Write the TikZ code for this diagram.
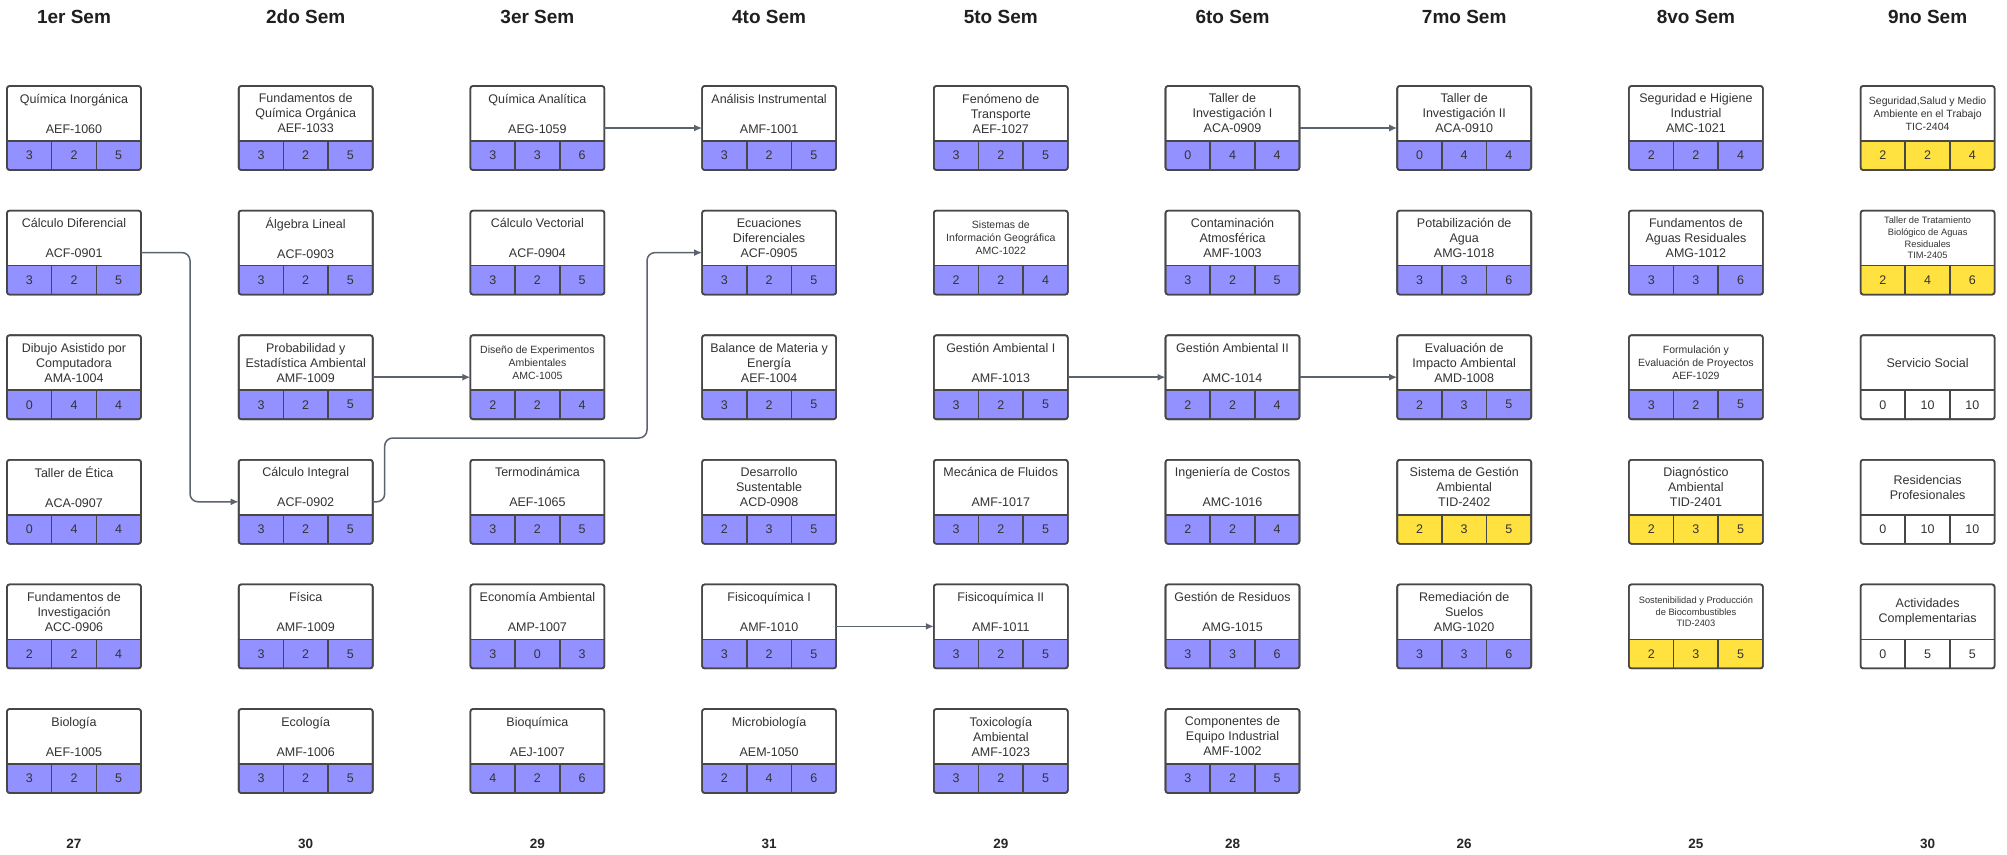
\documentclass[tikz,border=0pt]{standalone}
\usepackage{fontspec}
\setmainfont{Liberation Sans}
\usetikzlibrary{arrows.meta}
\definecolor{cpurple}{HTML}{9391FF}
\definecolor{cyellow}{HTML}{FFE240}
\definecolor{boxline}{HTML}{474747}
\definecolor{txtc}{HTML}{333333}
\definecolor{connc}{HTML}{5C6370}
\newcommand\fa{\fontsize{12.5}{15}\selectfont}
\newcommand\fb{\fontsize{10.5}{13}\selectfont}
\newcommand\fc{\fontsize{9.3}{11.7}\selectfont}
\tikzset{
  coursebox/.style={draw=boxline, fill=white, line width=1.6pt, rounded corners=2.5pt,
    minimum width=134pt, minimum height=84pt, inner sep=0pt, outer sep=0pt},
  sepline/.style={draw=boxline, line width=1.6pt},
  txt/.style={align=center, text=txtc, inner sep=0pt},
  num/.style={font=\fa, text=txtc, inner sep=0pt},
  hdr/.style={font=\bfseries\fontsize{19}{22}\selectfont, text=black!88, inner sep=0pt},
  tot/.style={font=\bfseries\fontsize{13.5}{16}\selectfont, text=black!85, inner sep=0pt},
  conn/.style={draw=connc, line width=1.5pt, -{Latex[length=8pt,width=7pt]}},
}
\newcommand\course[9]{%
  \node[coursebox, path picture={\fill[#4] ([yshift=29pt]path picture bounding box.south west) rectangle (path picture bounding box.south east);}] (#1) at ({74+231.7*#2},{128+124.6*#3}) {};
  \draw[sepline] ([yshift=29pt]#1.south west) -- ([yshift=29pt]#1.south east);
  \draw[sepline] ([xshift=44.67pt,yshift=29pt]#1.south west) -- ([xshift=44.67pt]#1.south west);
  \draw[sepline] ([xshift=89.33pt,yshift=29pt]#1.south west) -- ([xshift=89.33pt]#1.south west);
  \node[coursebox, fill=none] at (#1) {};
  \node[txt, font=#5] (#1-t) at ([yshift=-27.5pt]#1.north) {#6};
  \node[num] (#1-a) at ([xshift=22.33pt,yshift=14.5pt]#1.south west) {#7};
  \node[num] (#1-b) at ([xshift=67pt,yshift=14.5pt]#1.south west) {#8};
  \node[num] (#1-c) at ([xshift=111.67pt,yshift=14.5pt]#1.south west) {#9};
}
\begin{document}
\begin{tikzpicture}[x=1pt,y=-1pt]
\useasboundingbox[fill=white] (0,0) rectangle (2007,854);
% headers
\node[hdr] (h1) at ({74+231.7*0},17) {1er Sem};
\node[hdr] (h2) at ({74+231.7*1},17) {2do Sem};
\node[hdr] (h3) at ({74+231.7*2},17) {3er Sem};
\node[hdr] (h4) at ({74+231.7*3},17) {4to Sem};
\node[hdr] (h5) at ({74+231.7*4},17) {5to Sem};
\node[hdr] (h6) at ({74+231.7*5},17) {6to Sem};
\node[hdr] (h7) at ({74+231.7*6},17) {7mo Sem};
\node[hdr] (h8) at ({74+231.7*7},17) {8vo Sem};
\node[hdr] (h9) at ({74+231.7*8},17) {9no Sem};
% totals
\node[tot] (t1) at ({74+231.7*0},844) {27};
\node[tot] (t2) at ({74+231.7*1},844) {30};
\node[tot] (t3) at ({74+231.7*2},844) {29};
\node[tot] (t4) at ({74+231.7*3},844) {31};
\node[tot] (t5) at ({74+231.7*4},844) {29};
\node[tot] (t6) at ({74+231.7*5},844) {28};
\node[tot] (t7) at ({74+231.7*6},844) {26};
\node[tot] (t8) at ({74+231.7*7},844) {25};
\node[tot] (t9) at ({74+231.7*8},844) {30};
% column 1
\course{QI}{0}{0}{cpurple}{\fa}{Química Inorgánica\\[15pt]AEF-1060}{3}{2}{5}
\course{CD}{0}{1}{cpurple}{\fa}{Cálculo Diferencial\\[15pt]ACF-0901}{3}{2}{5}
\course{DAC}{0}{2}{cpurple}{\fa}{Dibujo Asistido por\\Computadora\\AMA-1004}{0}{4}{4}
\course{TE}{0}{3}{cpurple}{\fa}{Taller de Ética\\[15pt]ACA-0907}{0}{4}{4}
\course{FI}{0}{4}{cpurple}{\fa}{Fundamentos de\\Investigación\\ACC-0906}{2}{2}{4}
\course{BIO}{0}{5}{cpurple}{\fa}{Biología\\[15pt]AEF-1005}{3}{2}{5}
% column 2
\course{FQO}{1}{0}{cpurple}{\fa}{Fundamentos de\\Química Orgánica\\AEF-1033}{3}{2}{5}
\course{AL}{1}{1}{cpurple}{\fa}{Álgebra Lineal\\[15pt]ACF-0903}{3}{2}{5}
\course{PE}{1}{2}{cpurple}{\fa}{Probabilidad y\\Estadística Ambiental\\AMF-1009}{3}{2}{5}
\course{CI}{1}{3}{cpurple}{\fa}{Cálculo Integral\\[15pt]ACF-0902}{3}{2}{5}
\course{FIS}{1}{4}{cpurple}{\fa}{Física\\[15pt]AMF-1009}{3}{2}{5}
\course{ECO}{1}{5}{cpurple}{\fa}{Ecología\\[15pt]AMF-1006}{3}{2}{5}
% column 3
\course{QA}{2}{0}{cpurple}{\fa}{Química Analítica\\[15pt]AEG-1059}{3}{3}{6}
\course{CV}{2}{1}{cpurple}{\fa}{Cálculo Vectorial\\[15pt]ACF-0904}{3}{2}{5}
\course{DE}{2}{2}{cpurple}{\fb}{Diseño de Experimentos\\Ambientales\\AMC-1005}{2}{2}{4}
\course{TD}{2}{3}{cpurple}{\fa}{Termodinámica\\[15pt]AEF-1065}{3}{2}{5}
\course{EA}{2}{4}{cpurple}{\fa}{Economía Ambiental\\[15pt]AMP-1007}{3}{0}{3}
\course{BQ}{2}{5}{cpurple}{\fa}{Bioquímica\\[15pt]AEJ-1007}{4}{2}{6}
% column 4
\course{AI}{3}{0}{cpurple}{\fa}{Análisis Instrumental\\[15pt]AMF-1001}{3}{2}{5}
\course{ED}{3}{1}{cpurple}{\fa}{Ecuaciones\\Diferenciales\\ACF-0905}{3}{2}{5}
\course{BM}{3}{2}{cpurple}{\fa}{Balance de Materia y\\Energía\\AEF-1004}{3}{2}{5}
\course{DS}{3}{3}{cpurple}{\fa}{Desarrollo\\Sustentable\\ACD-0908}{2}{3}{5}
\course{FQ1}{3}{4}{cpurple}{\fa}{Fisicoquímica I\\[15pt]AMF-1010}{3}{2}{5}
\course{MB}{3}{5}{cpurple}{\fa}{Microbiología\\[15pt]AEM-1050}{2}{4}{6}
% column 5
\course{FT}{4}{0}{cpurple}{\fa}{Fenómeno de\\Transporte\\AEF-1027}{3}{2}{5}
\course{SIG}{4}{1}{cpurple}{\fb}{Sistemas de\\Información Geográfica\\AMC-1022}{2}{2}{4}
\course{GA1}{4}{2}{cpurple}{\fa}{Gestión Ambiental I\\[15pt]AMF-1013}{3}{2}{5}
\course{MF}{4}{3}{cpurple}{\fa}{Mecánica de Fluidos\\[15pt]AMF-1017}{3}{2}{5}
\course{FQ2}{4}{4}{cpurple}{\fa}{Fisicoquímica II\\[15pt]AMF-1011}{3}{2}{5}
\course{TOX}{4}{5}{cpurple}{\fa}{Toxicología\\Ambiental\\AMF-1023}{3}{2}{5}
% column 6
\course{TI1}{5}{0}{cpurple}{\fa}{Taller de\\Investigación I\\ACA-0909}{0}{4}{4}
\course{CA}{5}{1}{cpurple}{\fa}{Contaminación\\Atmosférica\\AMF-1003}{3}{2}{5}
\course{GA2}{5}{2}{cpurple}{\fa}{Gestión Ambiental II\\[15pt]AMC-1014}{2}{2}{4}
\course{IC}{5}{3}{cpurple}{\fa}{Ingeniería de Costos\\[15pt]AMC-1016}{2}{2}{4}
\course{GR}{5}{4}{cpurple}{\fa}{Gestión de Residuos\\[15pt]AMG-1015}{3}{3}{6}
\course{CEI}{5}{5}{cpurple}{\fa}{Componentes de\\Equipo Industrial\\AMF-1002}{3}{2}{5}
% column 7
\course{TI2}{6}{0}{cpurple}{\fa}{Taller de\\Investigación II\\ACA-0910}{0}{4}{4}
\course{PA}{6}{1}{cpurple}{\fa}{Potabilización de\\Agua\\AMG-1018}{3}{3}{6}
\course{EIA}{6}{2}{cpurple}{\fa}{Evaluación de\\Impacto Ambiental\\AMD-1008}{2}{3}{5}
\course{SGA}{6}{3}{cyellow}{\fa}{Sistema de Gestión\\Ambiental\\TID-2402}{2}{3}{5}
\course{RS}{6}{4}{cpurple}{\fa}{Remediación de\\Suelos\\AMG-1020}{3}{3}{6}
% column 8
\course{SHI}{7}{0}{cpurple}{\fa}{Seguridad e Higiene\\Industrial\\AMC-1021}{2}{2}{4}
\course{FAR}{7}{1}{cpurple}{\fa}{Fundamentos de\\Aguas Residuales\\AMG-1012}{3}{3}{6}
\course{FEP}{7}{2}{cpurple}{\fb}{Formulación y\\Evaluación de Proyectos\\AEF-1029}{3}{2}{5}
\course{DA}{7}{3}{cyellow}{\fa}{Diagnóstico\\Ambiental\\TID-2401}{2}{3}{5}
\course{SPB}{7}{4}{cyellow}{\fc}{Sostenibilidad y Producción\\de Biocombustibles\\TID-2403}{2}{3}{5}
% column 9
\course{SSM}{8}{0}{cyellow}{\fb}{Seguridad,Salud y Medio\\Ambiente en el Trabajo\\TIC-2404}{2}{2}{4}
\course{TTB}{8}{1}{cyellow}{\fc}{Taller de Tratamiento\\Biológico de Aguas\\Residuales\\TIM-2405}{2}{4}{6}
\course{SS}{8}{2}{white}{\fa}{Servicio Social}{0}{10}{10}
\course{RP}{8}{3}{white}{\fa}{Residencias\\Profesionales}{0}{10}{10}
\course{AC}{8}{4}{white}{\fa}{Actividades\\Complementarias}{0}{5}{5}
% connectors
\draw[conn] (QA.east) -- (AI.west);
\draw[conn, rounded corners=8pt] (CD.east) -- ++(49,0) |- (CI.west);
\coordinate (j1) at (647,438);
\draw[conn, rounded corners=8pt] (CI.east) -- ++(12,0) |- (j1) |- (ED.west);
\draw[conn] (PE.east) -- (DE.west);
\draw[conn] (FQ1.east) -- (FQ2.west);
\draw[conn] (TI1.east) -- (TI2.west);
\draw[conn] (GA1.east) -- (GA2.west);
\draw[conn] (GA2.east) -- (EIA.west);
\end{tikzpicture}
\end{document}
